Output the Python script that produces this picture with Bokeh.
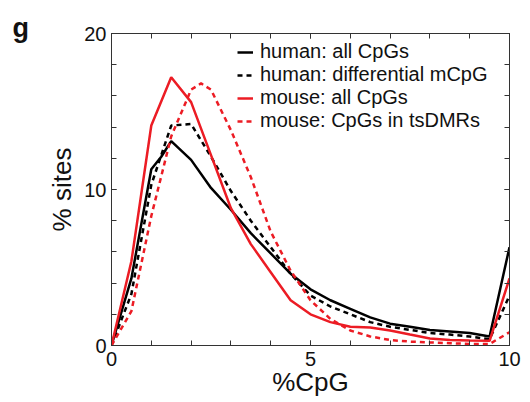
from bokeh.plotting import figure
from bokeh.models import (LinearAxis, FixedTicker, Range1d, Legend, LegendItem, Label)
from bokeh.embed import file_html
from bokeh.resources import INLINE

# ---- data ----
human_all_x = [0, 0.5, 1, 1.25, 1.5, 2, 2.5, 3, 3.5, 4, 4.5, 5, 5.5, 6, 6.5, 7, 7.5, 8, 8.5, 9, 9.5, 10]
human_all_y = [0, 4.3, 11.3, 12.1, 13.1, 11.9, 10.1, 8.7, 7.2, 5.9, 4.6, 3.6, 2.9, 2.35, 1.8, 1.4, 1.2, 1.0, 0.9, 0.8, 0.58, 6.3]

human_diff_x = [0, 0.5, 1, 1.5, 2, 2.5, 3, 3.5, 4, 4.5, 5, 5.5, 6, 6.5, 7, 7.5, 8, 8.5, 9, 9.5, 10]
human_diff_y = [0, 3.3, 10.3, 14.1, 14.2, 12.1, 9.9, 8.0, 6.3, 4.6, 3.2, 2.5, 2.0, 1.5, 1.2, 1.0, 0.8, 0.7, 0.58, 0.4, 3.2]

mouse_all_x = [0, 0.5, 1, 1.5, 2, 2.5, 3, 3.5, 4, 4.5, 5, 5.5, 6, 6.5, 7, 7.5, 8, 8.5, 9, 9.5, 10]
mouse_all_y = [0, 5.4, 14.1, 17.2, 15.6, 12.2, 8.8, 6.5, 4.7, 2.9, 2.0, 1.5, 1.2, 1.15, 0.96, 0.7, 0.45, 0.35, 0.32, 0.3, 4.3]

mouse_dmr_x = [0, 0.5, 1, 1.5, 2, 2.25, 2.5, 3, 3.5, 4, 4.5, 5, 5.5, 6, 6.5, 7, 7.5, 8, 8.5, 9, 9.5, 10]
mouse_dmr_y = [0, 2.2, 8.3, 13.4, 16.4, 16.8, 16.4, 13.8, 10.8, 7.3, 4.8, 2.9, 1.7, 0.96, 0.58, 0.35, 0.25, 0.2, 0.15, 0.1, 0.1, 0.85]

legend_labels = ["human: all CpGs", "human: differential mCpG",
                 "mouse: all CpGs", "mouse: CpGs in tsDMRs"]
panel_letter = "g"

x_major = [0, 5, 10]
x_minor = list(range(0, 11))
y_major = [0, 10, 20]
y_minor = list(range(0, 21, 2))

FONT = "Liberation Sans"
RED = "#ec1c24"
AX = "#333333"

p = figure(width=522, height=400, x_range=Range1d(0, 10), y_range=Range1d(0, 20),
           output_backend="svg", toolbar_location=None,
           min_border_left=111, min_border_right=13, min_border_top=33, min_border_bottom=55)
p.xgrid.visible = False
p.ygrid.visible = False
p.outline_line_color = AX
p.background_fill_color = "white"
p.border_fill_color = "white"

def style_axis(ax, major, minor, show_labels):
    ax.ticker = FixedTicker(ticks=major, minor_ticks=minor)
    ax.major_tick_in = 5
    ax.major_tick_out = 0
    ax.minor_tick_in = 5
    ax.minor_tick_out = 0
    ax.axis_line_color = AX
    ax.major_tick_line_color = AX
    ax.minor_tick_line_color = AX
    ax.major_label_text_font = FONT
    ax.major_label_text_color = "#111111"
    if show_labels:
        ax.major_label_text_font_size = "20px"
    else:
        ax.major_label_text_font_size = "0px"
        ax.major_label_overrides = {v: "" for v in major}
        ax.major_label_standoff = 0

xa = p.xaxis[0]
ya = p.yaxis[0]
style_axis(xa, x_major, x_minor, True)
style_axis(ya, y_major, y_minor, True)
xa.major_label_standoff = 6
ya.major_label_standoff = 5

xa.axis_label = "%CpG"
xa.axis_label_text_font = FONT
xa.axis_label_text_font_size = "26px"
xa.axis_label_text_font_style = "normal"
xa.axis_label_text_color = "#111111"
xa.axis_label_standoff = -2

ya.axis_label = "% sites"
ya.axis_label_text_font = FONT
ya.axis_label_text_font_size = "26px"
ya.axis_label_text_font_style = "normal"
ya.axis_label_text_color = "#111111"
ya.axis_label_standoff = 4

top = LinearAxis()
style_axis(top, x_major, x_minor, False)
p.add_layout(top, "above")
right = LinearAxis()
style_axis(right, y_major, y_minor, False)
p.add_layout(right, "right")

r1 = p.line(human_all_x, human_all_y, line_color="black", line_width=2.5)
r2 = p.line(human_diff_x, human_diff_y, line_color="black", line_width=2.5, line_dash="5 4")
r3 = p.line(mouse_all_x, mouse_all_y, line_color=RED, line_width=2.5)
r4 = p.line(mouse_dmr_x, mouse_dmr_y, line_color=RED, line_width=2.5, line_dash="5 4")

legend = Legend(items=[LegendItem(label=legend_labels[0], renderers=[r1]),
                       LegendItem(label=legend_labels[1], renderers=[r2]),
                       LegendItem(label=legend_labels[2], renderers=[r3]),
                       LegendItem(label=legend_labels[3], renderers=[r4])],
                location=(126, 213), border_line_color=None, background_fill_alpha=0,
                label_text_font=FONT, label_text_font_size="20px", label_text_color="#111111",
                glyph_width=16, glyph_height=20, label_height=20, spacing=0,
                padding=0, margin=0, label_standoff=7)
p.add_layout(legend, "center")

# panel letter, placed in the top border panel
g = Label(x=-99, y=6, x_units="screen", y_units="screen",
          text=panel_letter, text_font=FONT, text_font_size="27px", text_font_style="bold",
          text_color="#111111", text_baseline="alphabetic", text_align="left")
p.add_layout(g, "above")

open("out.html", "w").write(file_html(p, INLINE))
